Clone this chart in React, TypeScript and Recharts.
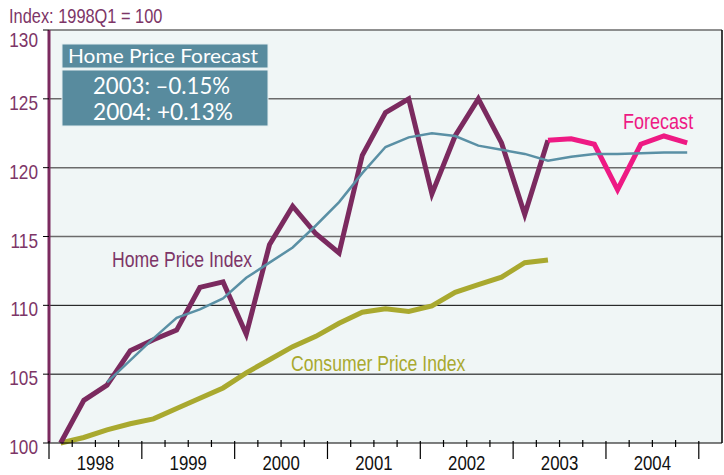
import React from "react";
import { LineChart, Line, XAxis, YAxis, CartesianGrid, ReferenceLine } from "recharts";

// quarterly data, 1998Q1 = 100
const years = ["1998", "1999", "2000", "2001", "2002", "2003", "2004"];
const quarters = years.flatMap((y) => ["Q1", "Q2", "Q3", "Q4"].map((q) => y + q));

const homePriceIndex = [
  100, 103.1, 104.2, 106.7, 107.5, 108.2, 111.3, 111.7, 107.9, 114.4, 117.2,
  115.2, 113.8, 120.9, 124.0, 125.0, 118.1, 122.3, 125.0, 121.8, 116.6, 122.0,
];
// starts at the last actual quarter (2003Q2)
const forecastIndex = [122.0, 122.1, 121.7, 118.4, 121.7, 122.3, 121.8];
const trendIndex = [
  null, null, 104.4, 106.0, 107.6, 109.1, 109.7, 110.5, 112.0, 113.1, 114.2,
  115.8, 117.5, 119.6, 121.5, 122.2, 122.5, 122.3, 121.6, 121.3, 121.0, 120.5,
  120.8, 121.0, 121.0, 121.05, 121.1, 121.1,
];
const consumerPriceIndex = [
  100, 100.4, 100.95, 101.4, 101.75, 102.5, 103.25, 104.0, 105.1, 106.05, 107.0,
  107.75, 108.7, 109.5, 109.75, 109.55, 109.95, 110.95, 111.5, 112.05, 113.1, 113.3,
];
const yTicks = [100, 105, 110, 115, 120, 125, 130];

const forecastStart = homePriceIndex.length - 1;

const data = quarters.map((q, i) => ({
  k: i,
  quarter: q,
  hpi: i < homePriceIndex.length ? homePriceIndex[i] : null,
  forecast: i >= forecastStart ? forecastIndex[i - forecastStart] : null,
  trend: trendIndex[i],
  cpi: i < consumerPriceIndex.length ? consumerPriceIndex[i] : null,
}));

// quarter boundaries: -0.5, 0.5, ... 27.5
const boundaries = Array.from({ length: quarters.length + 1 }, (_, i) => i - 0.5);

const MAROON = "#7b2a5f";
const LABEL_MAROON = "#7d3567";
const PINK = "#ee1a84";
const OLIVE = "#a9a92f";
const BLUE = "#5a90a5";
const BOX = "#588b9e";

// Arial Narrow is not installed, so squeeze Liberation Sans
const NarrowText = ({ x, y, size, fill, anchor = "start", children }: any) => (
  <text
    transform={`translate(${x},${y}) scale(0.82,1)`}
    textAnchor={anchor}
    fontFamily="'Liberation Sans', Arial, sans-serif"
    fontSize={size}
    fill={fill}
  >
    {children}
  </text>
);

const QuarterTick = (props: any) => {
  const { x, y, payload } = props;
  const b = Math.round(payload.value + 0.5);
  const major = b % 4 === 0;
  return (
    <g>
      <line x1={x} x2={x} y1={major ? y - 2 : y - 3} y2={major ? y + 16 : y + 4} stroke="#000" strokeWidth={1.2} />
      {b % 4 === 2 && (
        <NarrowText x={x} y={y + 27} size={20.5} fill="#111" anchor="middle">
          {years[(b - 2) / 4]}
        </NarrowText>
      )}
    </g>
  );
};

const ValueTick = (props: any) => {
  const { x, y, payload } = props;
  const top = payload.value === yTicks[yTicks.length - 1];
  return (
    <NarrowText x={x} y={y + (top ? 17 : 11)} size={21} fill={LABEL_MAROON} anchor="end">
      {payload.value}
    </NarrowText>
  );
};

export default function App() {
  return (
    <div style={{ position: "relative", width: 724, height: 475, background: "#fff" }}>
      <style>{`body{margin:0}`}</style>
      <LineChart width={724} height={475} data={data} margin={{ top: 30, right: 2, bottom: 0, left: 0 }}>
        <CartesianGrid fill="#f0f6f6" vertical={false} horizontalValues={[115, 120, 125, 130]} stroke="#6b6b6b" strokeWidth={1.5} />
        <CartesianGrid vertical={false} horizontalValues={[105, 110]} stroke="#000" strokeWidth={1} />
        <XAxis
          dataKey="k"
          type="number"
          domain={[-0.5, 28.5]}
          ticks={boundaries}
          interval={0}
          tick={<QuarterTick />}
          tickLine={false}
          tickSize={0}
          tickMargin={0}
          axisLine={{ stroke: "#000", strokeWidth: 1.2 }}
          height={32}
        />
        <YAxis
          type="number"
          domain={[100, 130]}
          ticks={yTicks}
          interval={0}
          width={49}
          tick={<ValueTick />}
          tickSize={6}
          tickMargin={5}
          tickLine={{ stroke: "#000" }}
          axisLine={{ stroke: MAROON, strokeWidth: 3 }}
        />
        <ReferenceLine x={28.5} stroke="#000" strokeWidth={1.5} />
        <Line dataKey="cpi" stroke={OLIVE} strokeWidth={5} dot={false} isAnimationActive={false} />
        <Line dataKey="hpi" stroke={MAROON} strokeWidth={5} dot={false} isAnimationActive={false} />
        <Line dataKey="forecast" stroke={PINK} strokeWidth={5} dot={false} isAnimationActive={false} />
        <Line dataKey="trend" stroke={BLUE} strokeWidth={2.5} dot={false} isAnimationActive={false} />
      </LineChart>
      <svg width={724} height={475} style={{ position: "absolute", left: 0, top: 0, pointerEvents: "none" }}>
        <NarrowText x={9} y={23} size={20} fill={LABEL_MAROON}>Index: 1998Q1 = 100</NarrowText>
        <rect x={62} y={44} width={206} height={24} fill={BOX} stroke="#e4eef0" strokeWidth={1} />
        <rect x={62} y={70} width={206} height={56} fill={BOX} stroke="#e4eef0" strokeWidth={1} />
        <text x={68} y={63} fontFamily="Lato, sans-serif" fontSize={19.5} fill="#fff" textLength={190} lengthAdjust="spacingAndGlyphs">Home Price Forecast</text>
        <text x={93} y={94} fontFamily="Lato, sans-serif" fontSize={23} fill="#fff" textLength={137} lengthAdjust="spacingAndGlyphs">2003: –0.15%</text>
        <text x={93} y={120} fontFamily="Lato, sans-serif" fontSize={23} fill="#fff" textLength={140} lengthAdjust="spacingAndGlyphs">2004: +0.13%</text>
        <NarrowText x={112} y={267} size={21.5} fill={LABEL_MAROON}>Home Price Index</NarrowText>
        <NarrowText x={291} y={371} size={21.5} fill={OLIVE}>Consumer Price Index</NarrowText>
        <NarrowText x={623} y={129} size={22} fill={PINK}>Forecast</NarrowText>
      </svg>
    </div>
  );
}
